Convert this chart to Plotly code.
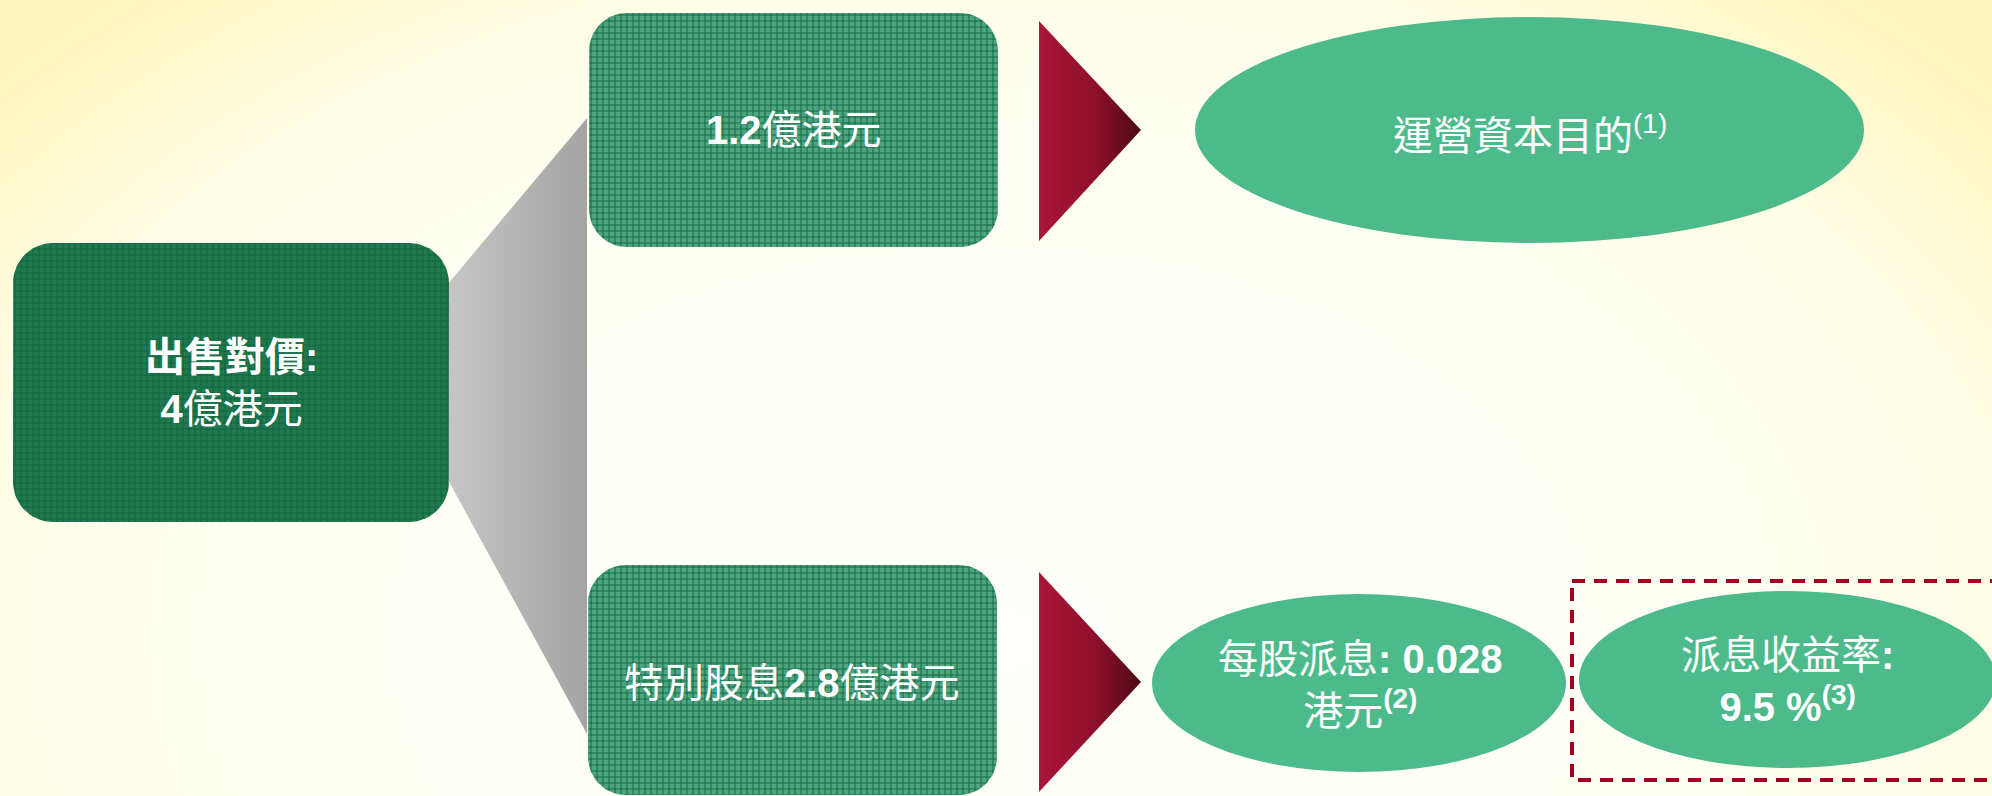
import numpy as np
import plotly.graph_objects as go

# ---- figures shown in the diagram ----
sale_consideration = 4          # 億港元
allocation_amounts = [1.2, 2.8]  # 億港元: working capital, special dividend
dividend_per_share = 0.028      # 港元
dividend_yield = 9.5            # %
note_refs = ["(1)", "(2)", "(3)"]

W, H = 1992, 796
FONT = "Liberation Sans, Noto Sans CJK TC, sans-serif"
WHITE = "#FFFFFF"
ELLIPSE_GREEN = "#4DBA8C"


def rounded_rect(x0, x1, y0, y1, r, n=16):
    """Closed outline of a rounded rectangle (y grows downward)."""
    xs, ys = [], []
    corners = [
        (x1 - r, y0 + r, -np.pi / 2, 0),          # top-right
        (x1 - r, y1 - r, 0, np.pi / 2),           # bottom-right
        (x0 + r, y1 - r, np.pi / 2, np.pi),       # bottom-left
        (x0 + r, y0 + r, np.pi, 1.5 * np.pi),     # top-left
    ]
    for cx, cy, a0, a1 in corners:
        t = np.linspace(a0, a1, n)
        xs.extend(cx + r * np.cos(t))
        ys.extend(cy + r * np.sin(t))
    xs.append(xs[0])
    ys.append(ys[0])
    return xs, ys


fig = go.Figure()

# soft cream background, yellower toward the top corners
fig.add_trace(go.Scatter(
    x=[-320, 2300, 2300, -320, -320], y=[-220, -220, 1500, 1500, -220],
    mode="lines", fill="toself", line=dict(width=0),
    fillgradient=dict(type="radial", colorscale=[
        [0.0, "rgb(255,255,251)"], [0.55, "rgb(255,255,245)"],
        [0.8, "rgb(255,253,228)"], [1.0, "rgb(255,245,188)"]]),
    hoverinfo="skip", showlegend=False))

# grey funnel from the total to the two allocations
fig.add_trace(go.Scatter(
    x=[447, 587, 587, 447, 447], y=[285, 118, 734, 478, 285],
    mode="lines", fill="toself", line=dict(width=0),
    fillgradient=dict(type="horizontal",
                      colorscale=[[0, "#C6C6C6"], [1, "#A4A4A4"]]),
    hoverinfo="skip", showlegend=False))

# green boxes
boxes = [
    dict(x0=13, x1=449, y0=243, y1=522, r=40, bg="#23784F", fg="#0A653E"),
    dict(x0=589, x1=998, y0=13, y1=247, r=38, bg="#4FA37E", fg="#0E6C44"),
    dict(x0=588, x1=997, y0=565, y1=795, r=38, bg="#4FA37E", fg="#0E6C44"),
]
for b in boxes:
    bx, by = rounded_rect(b["x0"], b["x1"], b["y0"], b["y1"], b["r"])
    fig.add_trace(go.Scatter(
        x=bx, y=by, mode="lines", fill="toself", line=dict(width=0),
        fillpattern=dict(shape="+", size=6, solidity=0.3,
                         fgcolor=b["fg"], bgcolor=b["bg"], fillmode="replace"),
        hoverinfo="skip", showlegend=False))

# red arrow heads
for y_top, y_tip, y_bot in [(21, 130, 241), (572, 682, 792)]:
    fig.add_trace(go.Scatter(
        x=[1039, 1141, 1039, 1039], y=[y_top, y_tip, y_bot, y_top],
        mode="lines", fill="toself", line=dict(width=0),
        fillgradient=dict(type="horizontal", colorscale=[
            [0, "#A9163A"], [0.55, "#8F0F2C"], [1, "#4A0914"]]),
        hoverinfo="skip", showlegend=False))

shapes = [
    dict(type="circle", x0=1195, x1=1864, y0=17, y1=243),
    dict(type="circle", x0=1152, x1=1566, y0=594, y1=772),
    dict(type="circle", x0=1579, x1=1996, y0=591, y1=768),
]
layout_shapes = [dict(s, xref="x", yref="y", fillcolor=ELLIPSE_GREEN,
                      line=dict(width=0), layer="above") for s in shapes]
layout_shapes.append(dict(
    type="rect", xref="x", yref="y", x0=1572, x1=2010, y0=581, y1=780,
    line=dict(color="#A50021", width=4, dash="13px,9px"),
    fillcolor="rgba(0,0,0,0)", layer="above"))

labels = [
    (231, 383, f"<b>出售對價:</b><br><b>{sale_consideration}</b>億港元"),
    (794, 130, f"<b>{allocation_amounts[0]}</b>億港元"),
    (792, 683, f"特別股息<b>{allocation_amounts[1]}</b>億港元"),
    (1530, 133, f"運營資本目的<sup>{note_refs[0]}</sup>"),
    (1360, 685, f"每股派息<b>: {dividend_per_share}</b><br>港元<sup><b>{note_refs[1]}</b></sup>"),
    (1787, 681, f"派息收益率<b>:</b><br><b>{dividend_yield} %</b><sup><b>{note_refs[2]}</b></sup>"),
]
annotations = [dict(x=x, y=y, xref="x", yref="y", text=t, showarrow=False,
                    font=dict(family=FONT, size=40, color=WHITE),
                    xanchor="center", yanchor="middle", align="center")
               for x, y, t in labels]

fig.update_layout(
    width=W, height=H, margin=dict(l=0, r=0, t=0, b=0),
    paper_bgcolor="#FFFFF8", plot_bgcolor="#FFFFF8",
    xaxis=dict(range=[0, W], visible=False, fixedrange=True),
    yaxis=dict(range=[H, 0], visible=False, fixedrange=True),
    shapes=layout_shapes, annotations=annotations, showlegend=False,
)

fig.write_html("out.html", config={"displayModeBar": False})
